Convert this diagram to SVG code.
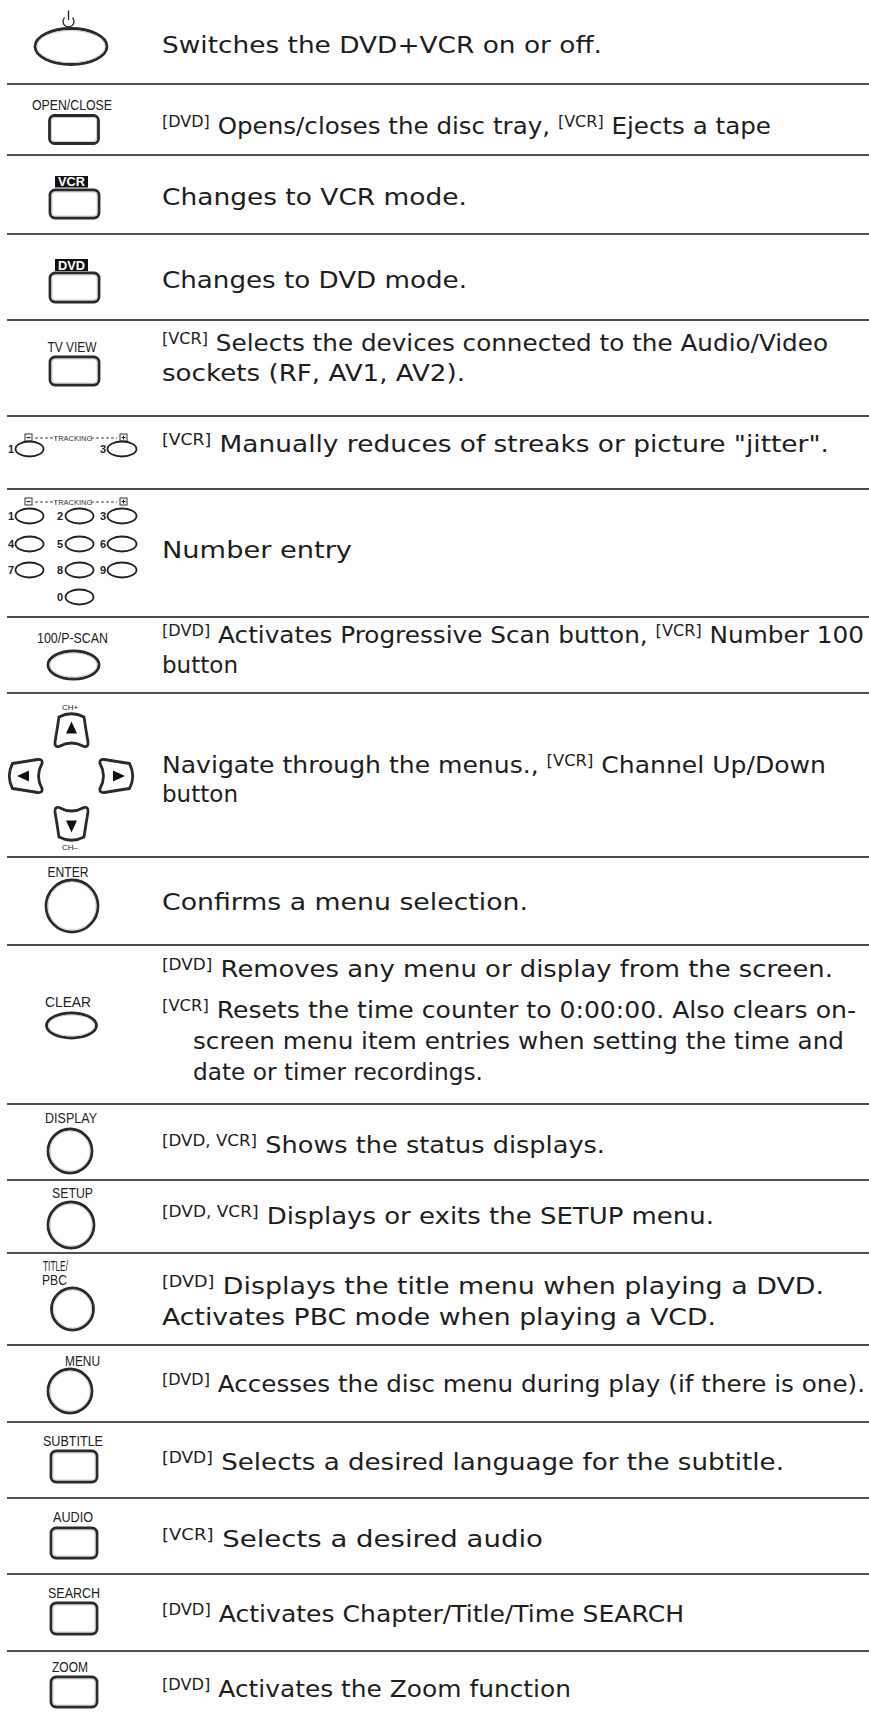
<svg xmlns="http://www.w3.org/2000/svg" width="869" height="1714" viewBox="0 0 869 1714">
<style>
.t{font-family:"DejaVu Sans",Verdana,sans-serif;font-size:23px;fill:#1e1e1e}
.s{font-size:15px}
.lbl{font-family:"Liberation Sans",Arial,sans-serif;font-size:15px;fill:#222;text-anchor:middle}
.dg{font-family:"Liberation Sans",Arial,sans-serif;font-size:11px;font-weight:bold;fill:#222;text-anchor:end}
.tk{font-family:"Liberation Sans",Arial,sans-serif;font-size:7.5px;fill:#333;text-anchor:middle}
.btn{fill:#fff;stroke:#2a2a2a;stroke-width:2.8}
.in{fill:none;stroke:#c8c8c8;stroke-width:0.9}
.key{fill:#fff;stroke:#222;stroke-width:1.8}
.sep{stroke:#505050;stroke-width:2}
.box{fill:#fff;stroke:#333;stroke-width:1}
.dash{stroke:#444;stroke-width:1;stroke-dasharray:3 2}
</style>
<defs>
<g id="arrowBtn">
<path class="btn" d="M -12.5,-13.5 Q 0,-20 12.5,-13.5 Q 14.5,0 16.5,11.5 Q 17,17 12.5,16 Q 0,9 -12.5,16 Q -17,17 -16.5,11.5 Q -14.5,0 -12.5,-13.5 Z"/>
<path d="M 0,-9 L 5.5,3 L -5.5,3 Z" fill="#111"/>
</g>
<g id="trk">
<rect class="box" x="25" y="0" width="7" height="7"/>
<line x1="26.5" y1="3.5" x2="30.5" y2="3.5" stroke="#222" stroke-width="1.2"/>
<line class="dash" x1="35" y1="4" x2="56" y2="4"/>
<text class="tk" x="73" y="6.5">TRACKING</text>
<line class="dash" x1="91" y1="4" x2="117" y2="4"/>
<rect class="box" x="120" y="0" width="7" height="7"/>
<line x1="121.5" y1="3.5" x2="125.5" y2="3.5" stroke="#222" stroke-width="1"/>
<line x1="123.5" y1="1.5" x2="123.5" y2="5.5" stroke="#222" stroke-width="1"/>
</g>
</defs>
<rect width="869" height="1714" fill="#fff"/>

<g id="separators">
<line class="sep" x1="7" y1="84" x2="869" y2="84"/>
<line class="sep" x1="7" y1="155" x2="869" y2="155"/>
<line class="sep" x1="7" y1="234" x2="869" y2="234"/>
<line class="sep" x1="7" y1="320" x2="869" y2="320"/>
<line class="sep" x1="7" y1="416" x2="869" y2="416"/>
<line class="sep" x1="7" y1="489" x2="869" y2="489"/>
<line class="sep" x1="7" y1="617" x2="869" y2="617"/>
<line class="sep" x1="7" y1="693" x2="869" y2="693"/>
<line class="sep" x1="7" y1="857" x2="869" y2="857"/>
<line class="sep" x1="7" y1="945" x2="869" y2="945"/>
<line class="sep" x1="7" y1="1104" x2="869" y2="1104"/>
<line class="sep" x1="7" y1="1180" x2="869" y2="1180"/>
<line class="sep" x1="7" y1="1253" x2="869" y2="1253"/>
<line class="sep" x1="7" y1="1345" x2="869" y2="1345"/>
<line class="sep" x1="7" y1="1422" x2="869" y2="1422"/>
<line class="sep" x1="7" y1="1498" x2="869" y2="1498"/>
<line class="sep" x1="7" y1="1574" x2="869" y2="1574"/>
<line class="sep" x1="7" y1="1651" x2="869" y2="1651"/>
</g>

<g id="row-power">
<path d="M 64.6,17.6 A 5.5 5.5 0 1 0 72.4,17.6" fill="none" stroke="#222" stroke-width="1.3"/>
<line x1="68.5" y1="10.5" x2="68.5" y2="20" stroke="#222" stroke-width="1.3"/>
<ellipse class="btn" cx="71" cy="46.5" rx="36" ry="18"/>
<ellipse class="in" cx="71" cy="46.5" rx="34" ry="16"/>
<text class="t" x="162" y="53" textLength="440" lengthAdjust="spacingAndGlyphs">Switches the DVD+VCR on or off.</text>
</g>

<g id="row-openclose">
<text class="lbl" x="72" y="110" textLength="80" lengthAdjust="spacingAndGlyphs">OPEN/CLOSE</text>
<rect class="btn" x="49.5" y="115.5" width="49" height="28" rx="5"/>
<rect class="in" x="51.5" y="117.5" width="45" height="24" rx="3.5"/>
<text class="t" x="162" y="134" textLength="609" lengthAdjust="spacingAndGlyphs"><tspan class="s" dy="-7">[DVD]</tspan><tspan dy="7"> Opens/closes the disc tray, </tspan><tspan class="s" dy="-7">[VCR]</tspan><tspan dy="7"> Ejects a tape</tspan></text>
</g>

<g id="row-vcr">
<rect x="55" y="176" width="33" height="11.5" fill="#111"/>
<text x="71.5" y="186" font-family="Liberation Sans,Arial,sans-serif" font-size="12" font-weight="bold" fill="#fff" text-anchor="middle" textLength="27" lengthAdjust="spacingAndGlyphs">VCR</text>
<rect class="btn" x="50" y="190" width="49" height="28" rx="5"/>
<rect class="in" x="52" y="192" width="45" height="24" rx="3.5"/>
<text class="t" x="162" y="205" textLength="305" lengthAdjust="spacingAndGlyphs">Changes to VCR mode.</text>
</g>

<g id="row-dvd">
<rect x="55" y="259" width="33" height="12" fill="#111"/>
<text x="71.5" y="269.5" font-family="Liberation Sans,Arial,sans-serif" font-size="12" font-weight="bold" fill="#fff" text-anchor="middle" textLength="27" lengthAdjust="spacingAndGlyphs">DVD</text>
<rect class="btn" x="50" y="273" width="49" height="29" rx="5"/>
<rect class="in" x="52" y="275" width="45" height="25" rx="3.5"/>
<text class="t" x="162" y="288" textLength="305" lengthAdjust="spacingAndGlyphs">Changes to DVD mode.</text>
</g>

<g id="row-tvview">
<text class="lbl" x="72" y="352" textLength="49" lengthAdjust="spacingAndGlyphs">TV VIEW</text>
<rect class="btn" x="50" y="357" width="49" height="28" rx="5"/>
<rect class="in" x="52" y="359" width="45" height="24" rx="3.5"/>
<text class="t" x="162" y="351" textLength="666" lengthAdjust="spacingAndGlyphs"><tspan class="s" dy="-7">[VCR]</tspan><tspan dy="7"> Selects the devices connected to the Audio/Video</tspan></text>
<text class="t" x="162" y="381" textLength="303" lengthAdjust="spacingAndGlyphs">sockets (RF, AV1, AV2).</text>
</g>

<g id="row-tracking">
<use href="#trk" y="434"/>
<text class="dg" x="14" y="453">1</text>
<ellipse class="key" cx="29.5" cy="449" rx="14" ry="7.5"/>
<text class="dg" x="106" y="453">3</text>
<ellipse class="key" cx="122" cy="449" rx="14.5" ry="7.5"/>
<text class="t" x="162" y="452" textLength="667" lengthAdjust="spacingAndGlyphs"><tspan class="s" dy="-7">[VCR]</tspan><tspan dy="7"> Manually reduces of streaks or picture "jitter".</tspan></text>
</g>

<g id="row-numbers">
<use href="#trk" y="498"/>
<text class="dg" x="14" y="520">1</text>
<ellipse class="key" cx="29.5" cy="516" rx="14" ry="7.5"/>
<text class="dg" x="63" y="520">2</text>
<ellipse class="key" cx="79.5" cy="516" rx="14" ry="7.5"/>
<text class="dg" x="106" y="520">3</text>
<ellipse class="key" cx="122" cy="516" rx="14.5" ry="7.5"/>
<text class="dg" x="14" y="548">4</text>
<ellipse class="key" cx="29.5" cy="544" rx="14" ry="7.5"/>
<text class="dg" x="63" y="548">5</text>
<ellipse class="key" cx="79.5" cy="544" rx="14" ry="7.5"/>
<text class="dg" x="106" y="548">6</text>
<ellipse class="key" cx="122" cy="544" rx="14.5" ry="7.5"/>
<text class="dg" x="14" y="574">7</text>
<ellipse class="key" cx="29.5" cy="570" rx="14" ry="7.5"/>
<text class="dg" x="63" y="574">8</text>
<ellipse class="key" cx="79.5" cy="570" rx="14" ry="7.5"/>
<text class="dg" x="106" y="574">9</text>
<ellipse class="key" cx="122" cy="570" rx="14.5" ry="7.5"/>
<text class="dg" x="63" y="601">0</text>
<ellipse class="key" cx="79.5" cy="597" rx="14" ry="7.5"/>
<text class="t" x="162" y="558" textLength="190" lengthAdjust="spacingAndGlyphs">Number entry</text>
</g>

<g id="row-pscan">
<text class="lbl" x="72.5" y="643" textLength="71" lengthAdjust="spacingAndGlyphs">100/P-SCAN</text>
<ellipse class="btn" cx="73.5" cy="665" rx="25.5" ry="14"/>
<ellipse class="in" cx="73.5" cy="665" rx="23.5" ry="12"/>
<text class="t" x="162" y="643" textLength="702" lengthAdjust="spacingAndGlyphs"><tspan class="s" dy="-7">[DVD]</tspan><tspan dy="7"> Activates Progressive Scan button, </tspan><tspan class="s" dy="-7">[VCR]</tspan><tspan dy="7"> Number 100</tspan></text>
<text class="t" x="162" y="673" textLength="76" lengthAdjust="spacingAndGlyphs">button</text>
</g>

<g id="row-nav">
<text x="70" y="710" font-family="Liberation Sans,Arial,sans-serif" font-size="8" fill="#222" text-anchor="middle">CH+</text>
<use href="#arrowBtn" transform="translate(71.5,730.5)"/>
<use href="#arrowBtn" transform="translate(26,776) rotate(-90)"/>
<use href="#arrowBtn" transform="translate(116,776) rotate(90)"/>
<use href="#arrowBtn" transform="translate(71.5,823.5) rotate(180)"/>
<text x="70" y="850" font-family="Liberation Sans,Arial,sans-serif" font-size="8" fill="#222" text-anchor="middle">CH–</text>
<text class="t" x="162" y="773" textLength="664" lengthAdjust="spacingAndGlyphs">Navigate through the menus., <tspan class="s" dy="-7">[VCR]</tspan><tspan dy="7"> Channel Up/Down</tspan></text>
<text class="t" x="162" y="802" textLength="76" lengthAdjust="spacingAndGlyphs">button</text>
</g>

<g id="row-enter">
<text class="lbl" x="68" y="877" textLength="41" lengthAdjust="spacingAndGlyphs">ENTER</text>
<circle class="btn" cx="72" cy="906" r="26"/>
<circle class="in" cx="72" cy="906" r="24"/>
<text class="t" x="162" y="910" textLength="366" lengthAdjust="spacingAndGlyphs">Confirms a menu selection.</text>
</g>

<g id="row-clear">
<text class="lbl" x="68" y="1007" textLength="46" lengthAdjust="spacingAndGlyphs">CLEAR</text>
<ellipse class="btn" cx="71.5" cy="1025.5" rx="25" ry="12.5"/>
<ellipse class="in" cx="71.5" cy="1025.5" rx="23" ry="10.5"/>
<text class="t" x="162" y="977" textLength="671" lengthAdjust="spacingAndGlyphs"><tspan class="s" dy="-7">[DVD]</tspan><tspan dy="7"> Removes any menu or display from the screen.</tspan></text>
<text class="t" x="162" y="1018" textLength="694" lengthAdjust="spacingAndGlyphs"><tspan class="s" dy="-7">[VCR]</tspan><tspan dy="7"> Resets the time counter to 0:00:00. Also clears on-</tspan></text>
<text class="t" x="193" y="1049" textLength="651" lengthAdjust="spacingAndGlyphs">screen menu item entries when setting the time and</text>
<text class="t" x="193" y="1080" textLength="290" lengthAdjust="spacingAndGlyphs">date or timer recordings.</text>
</g>

<g id="row-display">
<text class="lbl" x="71" y="1123" textLength="52" lengthAdjust="spacingAndGlyphs">DISPLAY</text>
<circle class="btn" cx="70" cy="1151" r="22"/>
<circle class="in" cx="70" cy="1151" r="20"/>
<text class="t" x="162" y="1153" textLength="443" lengthAdjust="spacingAndGlyphs"><tspan class="s" dy="-7">[DVD, VCR]</tspan><tspan dy="7"> Shows the status displays.</tspan></text>
</g>

<g id="row-setup">
<text class="lbl" x="72.5" y="1198" textLength="41" lengthAdjust="spacingAndGlyphs">SETUP</text>
<circle class="btn" cx="71" cy="1225" r="23"/>
<circle class="in" cx="71" cy="1225" r="21"/>
<text class="t" x="162" y="1224" textLength="552" lengthAdjust="spacingAndGlyphs"><tspan class="s" dy="-7">[DVD, VCR]</tspan><tspan dy="7"> Displays or exits the SETUP menu.</tspan></text>
</g>

<g id="row-title">
<text x="43" y="1271" font-family="Liberation Sans,Arial,sans-serif" font-size="14" fill="#222" textLength="25" lengthAdjust="spacingAndGlyphs">TITLE/</text>
<text x="42" y="1285" font-family="Liberation Sans,Arial,sans-serif" font-size="14" fill="#222" textLength="25" lengthAdjust="spacingAndGlyphs">PBC</text>
<circle class="btn" cx="72.5" cy="1309" r="21"/>
<circle class="in" cx="72.5" cy="1309" r="19"/>
<text class="t" x="162" y="1294" textLength="662" lengthAdjust="spacingAndGlyphs"><tspan class="s" dy="-7">[DVD]</tspan><tspan dy="7"> Displays the title menu when playing a DVD.</tspan></text>
<text class="t" x="162" y="1325" textLength="554" lengthAdjust="spacingAndGlyphs">Activates PBC mode when playing a VCD.</text>
</g>

<g id="row-menu">
<text class="lbl" x="82.5" y="1366" textLength="35" lengthAdjust="spacingAndGlyphs">MENU</text>
<circle class="btn" cx="70" cy="1391" r="22"/>
<circle class="in" cx="70" cy="1391" r="20"/>
<text class="t" x="162" y="1392" textLength="703" lengthAdjust="spacingAndGlyphs"><tspan class="s" dy="-7">[DVD]</tspan><tspan dy="7"> Accesses the disc menu during play (if there is one).</tspan></text>
</g>

<g id="row-subtitle">
<text class="lbl" x="73" y="1446" textLength="60" lengthAdjust="spacingAndGlyphs">SUBTITLE</text>
<rect class="btn" x="51" y="1451" width="46" height="31" rx="5"/>
<rect class="in" x="53" y="1453" width="42" height="27" rx="3.5"/>
<text class="t" x="162" y="1470" textLength="622" lengthAdjust="spacingAndGlyphs"><tspan class="s" dy="-7">[DVD]</tspan><tspan dy="7"> Selects a desired language for the subtitle.</tspan></text>
</g>

<g id="row-audio">
<text class="lbl" x="73" y="1522" textLength="40" lengthAdjust="spacingAndGlyphs">AUDIO</text>
<rect class="btn" x="51" y="1528" width="46" height="30" rx="5"/>
<rect class="in" x="53" y="1530" width="42" height="26" rx="3.5"/>
<text class="t" x="162" y="1547" textLength="381" lengthAdjust="spacingAndGlyphs"><tspan class="s" dy="-7">[VCR]</tspan><tspan dy="7"> Selects a desired audio</tspan></text>
</g>

<g id="row-search">
<text class="lbl" x="74" y="1598" textLength="52" lengthAdjust="spacingAndGlyphs">SEARCH</text>
<rect class="btn" x="51" y="1603" width="46" height="31" rx="5"/>
<rect class="in" x="53" y="1605" width="42" height="27" rx="3.5"/>
<text class="t" x="162" y="1622" textLength="522" lengthAdjust="spacingAndGlyphs"><tspan class="s" dy="-7">[DVD]</tspan><tspan dy="7"> Activates Chapter/Title/Time SEARCH</tspan></text>
</g>

<g id="row-zoom">
<text class="lbl" x="70" y="1672" textLength="36" lengthAdjust="spacingAndGlyphs">ZOOM</text>
<rect class="btn" x="51" y="1677" width="46" height="30" rx="5"/>
<rect class="in" x="53" y="1679" width="42" height="26" rx="3.5"/>
<text class="t" x="162" y="1697" textLength="409" lengthAdjust="spacingAndGlyphs"><tspan class="s" dy="-7">[DVD]</tspan><tspan dy="7"> Activates the Zoom function</tspan></text>
</g>
</svg>
